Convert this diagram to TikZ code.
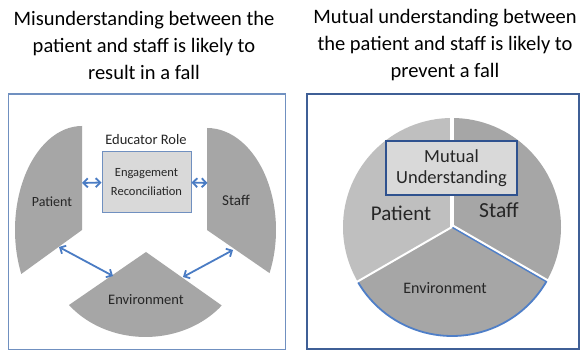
\documentclass[tikz,border=0pt]{standalone}
\usepackage{fontspec}
\setmainfont{Carlito}
\usetikzlibrary{arrows.meta,calc}
\definecolor{framelight}{HTML}{7090C0}
\definecolor{framedark}{HTML}{3F5F96}
\definecolor{arrowblue}{HTML}{4A7CC4}
\definecolor{piecegray}{HTML}{A6A6A6}
\definecolor{lightgray}{HTML}{BFBFBF}
\definecolor{boxgray}{HTML}{D9D9D9}
\definecolor{mubox}{HTML}{2F528F}
\definecolor{envblue}{HTML}{4F7FC8}
\tikzset{
  fs/.style={font=\fontsize{#1}{#1}\selectfont},
  biarrow/.style={draw=arrowblue, line width=1.8pt,
    {Straight Barb[length=4.5pt,width=9pt]}-{Straight Barb[length=4.5pt,width=9pt]}},
  title/.style={align=center, font=\fontsize{20.5}{27}\selectfont, inner sep=0pt},
  lbl/.style={inner sep=0pt, text=black!85},
}
\begin{document}
\begin{tikzpicture}[x=1pt,y=-1pt]
\useasboundingbox (0,0) rectangle (584,352);
\fill[white] (0,0) rectangle (584,352);
% titles
\node[title] (t1) at (144,45) {Misunderstanding between the\\patient and staff is likely to\\result in a fall};
\node[title] (t2) at (445,45) {Mutual understanding between\\the patient and staff is likely to\\prevent a fall};
% frames
\draw[framelight, line width=1.2pt] (8.5,94) rectangle (285.5,349.5);
\draw[framedark, line width=2pt] (307,94) rectangle (579,349.5);
% left diagram pieces
\fill[piecegray] (82,230) -- (82,126) arc[start angle=-90, end angle=-205, x radius=67, y radius=104] -- cycle;
\fill[piecegray] (207,230) -- (207,128) arc[start angle=-90, end angle=25, x radius=69, y radius=102] -- cycle;
\fill[piecegray] (146,252) -- (69,305) arc[start angle=141.4, end angle=39, x radius=98, y radius=85] -- cycle;
\node[lbl, fs=14] (lpat) at (52,202) {Patient};
\node[lbl, fs=15] (lstaff) at (236,200) {Staff};
\node[lbl, fs=14.5] (lenv) at (146,300) {Environment};
\node[lbl, fs=14.5] (edu) at (146,140) {Educator Role};
\node[draw=framelight, fill=boxgray, line width=1pt, minimum width=89pt, minimum height=61pt,
  align=center, font=\fontsize{12.5}{19}\selectfont, text=black!85] (eng) at (146.5,182.5) {Engagement\\Reconciliation};
\coordinate (pr) at (82,183);
\coordinate (sr) at (207.5,183);
\coordinate (pe1) at (59,247);
\coordinate (pe2) at (113,276);
\coordinate (se1) at (183,277);
\coordinate (se2) at (233,250);
\draw[biarrow] (pr) -- (eng.west);
\draw[biarrow] (eng.east) -- (sr);
\draw[biarrow] (pe1) -- (pe2);
\draw[biarrow] (se1) -- (se2);
% right pie
\coordinate (c) at (452,227);
\fill[lightgray] (c) -- ++(-90:109) arc[start angle=-90, end angle=-210, radius=109] -- cycle;
\fill[piecegray] (c) -- ++(-90:109) arc[start angle=-90, end angle=30, radius=109] -- cycle;
\fill[piecegray] (c) -- ++(30:109) arc[start angle=30, end angle=150, radius=109] -- cycle;
\draw[envblue, line width=1.8pt, line join=round] (c) ++(150:109) arc[start angle=150, end angle=30, radius=109] -- (c);
\draw[white, line width=4pt] (c) -- ++(-90:112);
\draw[white, line width=2pt] (c) -- ++(150:112);
\draw[white, line width=2pt] ($(c)+(-60:1.7)$) -- ++(30:111);
\node[draw=mubox, fill=boxgray, line width=1.5pt, minimum width=131pt, minimum height=54pt,
  align=center, font=\fontsize{18.5}{21}\selectfont, text=black!85] (mu) at (451.5,168) {Mutual\\Understanding};
\node[lbl, fs=21] (rpat) at (401,213) {Patient};
\node[lbl, fs=21.5] (rstaff) at (499,210) {Staff};
\node[lbl, fs=16] (renv) at (445,288) {Environment};
\end{tikzpicture}
\end{document}
